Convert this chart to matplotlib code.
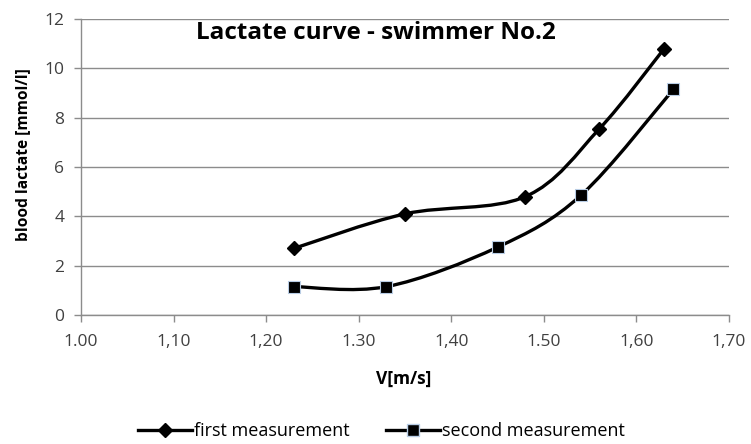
import matplotlib
matplotlib.use("Agg")
import matplotlib.pyplot as plt
from matplotlib.path import Path
from matplotlib.patches import PathPatch
from matplotlib.lines import Line2D
import numpy as np

# Data
x_first = [1.23, 1.35, 1.48, 1.56, 1.63]
y_first = [2.7, 4.1, 4.8, 7.55, 10.8]
x_second = [1.23, 1.33, 1.45, 1.54, 1.64]
y_second = [1.15, 1.15, 2.75, 4.85, 9.15]
x_ticks = [1.00, 1.10, 1.20, 1.30, 1.40, 1.50, 1.60, 1.70]
x_tick_labels = ["1.00", "1,10", "1,20", "1.30", "1,40", "1.50", "1,60", "1,70"]
y_ticks = [0, 2, 4, 6, 8, 10, 12]
title = "Lactate curve - swimmer No.2"
series_names = ["first measurement", "second measurement"]

plt.rcParams['font.family'] = ['Open Sans', 'DejaVu Sans']

fig = plt.figure(figsize=(7.51, 4.44), dpi=100)
ax = fig.add_axes([81/751, 1-315/444, (729-81)/751, (315-19)/444])


def smooth_path(xs, ys):
    """Excel-style smoothed line as cubic Bezier path through the points."""
    pts = np.column_stack([xs, ys]).astype(float)
    n = len(pts)
    verts = [tuple(pts[0])]
    codes = [Path.MOVETO]
    for i in range(n - 1):
        p0 = pts[i - 1] if i > 0 else pts[i]
        p1 = pts[i]
        p2 = pts[i + 1]
        p3 = pts[i + 2] if i + 2 < n else pts[i + 1]
        c1 = p1 + (p2 - p0) / 6.0
        c2 = p2 - (p3 - p1) / 6.0
        verts += [tuple(c1), tuple(c2), tuple(p2)]
        codes += [Path.CURVE4] * 3
    return Path(verts, codes)


lw = 2.4
for xs, ys in [(x_first, y_first), (x_second, y_second)]:
    ax.add_patch(PathPatch(smooth_path(xs, ys), facecolor='none',
                           edgecolor='black', lw=lw, zorder=3,
                           capstyle='round', joinstyle='round'))

ax.plot(x_first, y_first, linestyle='none', marker='D', markersize=7,
        color='black', zorder=4)
ax.plot(x_second, y_second, linestyle='none', marker='s', markersize=8.5,
        markerfacecolor='black', markeredgecolor='#b9cde5', markeredgewidth=0.8,
        zorder=4)

ax.set_xlim(1.00, 1.70)
ax.set_ylim(0, 12)
ax.set_xticks(x_ticks)
ax.set_xticklabels(x_tick_labels)
ax.set_yticks(y_ticks)

grid_c = '#8c8c8c'
ax.yaxis.grid(True, color=grid_c, lw=1.0)
ax.set_axisbelow(True)
for s in ['top', 'right']:
    ax.spines[s].set_visible(False)
for s in ['left', 'bottom']:
    ax.spines[s].set_color(grid_c)
    ax.spines[s].set_linewidth(1.0)
ax.tick_params(axis='both', colors=grid_c, length=5, width=1.0,
               labelcolor='#404040', labelsize=12.5)
ax.tick_params(axis='x', pad=9)
ax.tick_params(axis='y', pad=7)

ax.set_xlabel("V[m/s]", fontsize=12.5, fontweight='bold', color='black')
ax.xaxis.set_label_coords((404 - 81) / 648, -(370 - 315) / 296)
ax.set_ylabel("blood lactate [mmol/l]", fontsize=11.2, fontweight='bold',
              color='black')
ax.yaxis.set_label_coords(-(81 - 31) / 648, (315 - 155) / 296)

ax.text(1.318, 11.43, title, ha='center', va='center',
        fontsize=17.5, fontweight='bold', color='black')

handles = [
    Line2D([], [], color='black', lw=lw, marker='D', markersize=7),
    Line2D([], [], color='black', lw=lw, marker='s', markersize=8.5,
           markerfacecolor='black', markeredgecolor='#b9cde5'),
]
fig.legend(handles, series_names, loc='center left',
           bbox_to_anchor=(122/751, 1 - 431/444),
           ncol=2, frameon=False, fontsize=13, handlelength=3.0,
           handletextpad=0.1, columnspacing=2.0, labelcolor='black')

fig.savefig("out.png", dpi=100)
